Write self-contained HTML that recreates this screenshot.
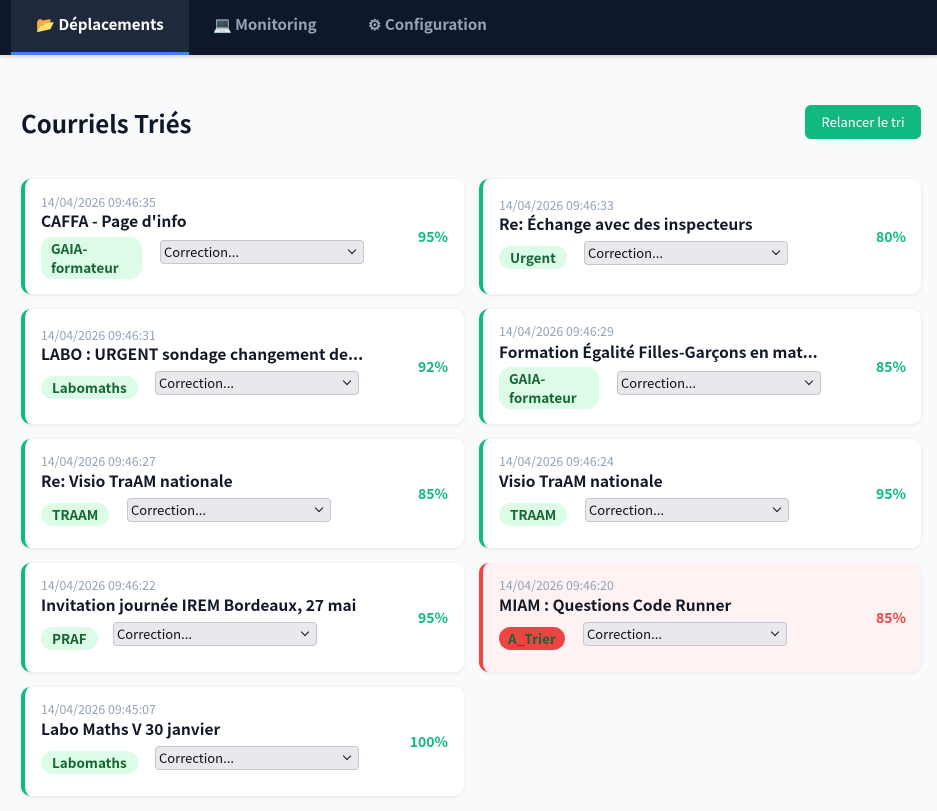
<!DOCTYPE html>
<html><head><meta charset="utf-8"><style>
*{margin:0;padding:0;box-sizing:border-box}
body{width:937px;height:811px;background:#f8fafc;font-family:"Noto Sans CJK JP","Liberation Sans",sans-serif;position:relative;overflow:hidden;color:#0f172a}
.nav{position:absolute;left:0;top:0;width:937px;height:55px;background:#0f172a;box-shadow:0 2px 4px rgba(0,0,0,.15)}
.tab{position:absolute;top:0;height:55px;line-height:50px;font-size:15px;font-weight:700;color:#94a3b8;white-space:nowrap}
.act{left:11px;width:178px;background:#1e293b;color:#fff;border-bottom:3px solid #3b82f6;text-align:center}
.abs{position:absolute;white-space:nowrap}
.card{position:absolute;background:#fff;border-radius:10px;border-left:4px solid #10b981;box-shadow:0 1px 4px rgba(0,0,0,.08)}
.date{font-size:12.3px;color:#94a3b8;line-height:16px}
.title{font-size:15.5px;font-weight:700;line-height:20px;color:#111827}
.tag{position:absolute;background:#dcfce7;color:#166534;font-size:13.5px;font-weight:700;border-radius:12px;line-height:21px;padding:1px 11px}
.sel{position:absolute;height:24px;width:204px;background:#e9e9ed;border:1px solid #c4c7d0;border-radius:4px;font-size:13px;line-height:22px;padding-left:3px;color:#111}
.sel:after{content:"";position:absolute;right:8px;top:6px;width:5px;height:5px;border-right:1.6px solid #111;border-bottom:1.6px solid #111;transform:rotate(45deg)}
.pct{font-size:14px;font-weight:700;color:#10b981;line-height:18px}
</style></head><body>
<div class="nav">
<div class="tab act">📂 Déplacements</div>
<div class="tab" style="left:213px">💻 Monitoring</div>
<div class="tab" style="left:368px">⚙ Configuration</div>
</div>
<div class="abs" style="left:21px;top:107px;font-size:24px;font-weight:700;line-height:32px">Courriels Triés</div>
<div class="abs" style="left:805px;top:105px;width:116px;height:34px;background:#10b981;border-radius:6px;color:#fff;font-size:13px;line-height:34px;text-align:center">Relancer le tri</div>

<div class="card" style="left:21px;top:179px;width:443px;height:115px"></div>
<div class="card" style="left:479px;top:179px;width:442px;height:115px"></div>
<div class="card" style="left:21px;top:309px;width:443px;height:115px"></div>
<div class="card" style="left:479px;top:309px;width:442px;height:115px"></div>
<div class="card" style="left:21px;top:439px;width:443px;height:109px"></div>
<div class="card" style="left:479px;top:439px;width:442px;height:109px"></div>
<div class="card" style="left:21px;top:563px;width:443px;height:109px"></div>
<div class="card" style="left:479px;top:563px;width:442px;height:109px;background:#fef2f2;border-left-color:#ef4444"></div>
<div class="card" style="left:21px;top:687px;width:443px;height:109px"></div>

<div class="abs date" style="left:41px;top:194px">14/04/2026 09:46:35</div>
<div class="abs title" style="left:41px;top:211px">CAFFA - Page d'info</div>
<div class="tag" style="left:41px;top:237px;width:101px;height:42px;white-space:normal;line-height:19px;padding:2px 10px">GAIA-<br>formateur</div>
<div class="sel" style="left:160px;top:240px">Correction...</div>
<div class="abs pct" style="right:489px;top:228px">95%</div>

<div class="abs date" style="left:499px;top:197px">14/04/2026 09:46:33</div>
<div class="abs title" style="left:499px;top:214px">Re: Échange avec des inspecteurs</div>
<div class="tag" style="left:499px;top:246px">Urgent</div>
<div class="sel" style="left:584px;top:241px">Correction...</div>
<div class="abs pct" style="right:31px;top:228px">80%</div>

<div class="abs date" style="left:41px;top:327px">14/04/2026 09:46:31</div>
<div class="abs title" style="left:41px;top:344px">LABO : URGENT sondage changement de...</div>
<div class="tag" style="left:41px;top:376px">Labomaths</div>
<div class="sel" style="left:155px;top:371px">Correction...</div>
<div class="abs pct" style="right:489px;top:358px">92%</div>

<div class="abs date" style="left:499px;top:323px">14/04/2026 09:46:29</div>
<div class="abs title" style="left:499px;top:342px">Formation Égalité Filles-Garçons en mat...</div>
<div class="tag" style="left:499px;top:367px;width:100px;height:42px;white-space:normal;line-height:19px;padding:2px 10px">GAIA-<br>formateur</div>
<div class="sel" style="left:617px;top:371px">Correction...</div>
<div class="abs pct" style="right:31px;top:358px">85%</div>

<div class="abs date" style="left:41px;top:453px">14/04/2026 09:46:27</div>
<div class="abs title" style="left:41px;top:471px">Re: Visio TraAM nationale</div>
<div class="tag" style="left:41px;top:503px">TRAAM</div>
<div class="sel" style="left:127px;top:498px">Correction...</div>
<div class="abs pct" style="right:489px;top:485px">85%</div>
<div class="abs date" style="left:499px;top:453px">14/04/2026 09:46:24</div>
<div class="abs title" style="left:499px;top:471px">Visio TraAM nationale</div>
<div class="tag" style="left:499px;top:503px">TRAAM</div>
<div class="sel" style="left:585px;top:498px">Correction...</div>
<div class="abs pct" style="right:31px;top:485px">95%</div>

<div class="abs date" style="left:41px;top:577px">14/04/2026 09:46:22</div>
<div class="abs title" style="left:41px;top:595px">Invitation journée IREM Bordeaux, 27 mai</div>
<div class="tag" style="left:41px;top:627px">PRAF</div>
<div class="sel" style="left:113px;top:622px">Correction...</div>
<div class="abs pct" style="right:489px;top:609px">95%</div>
<div class="abs date" style="left:499px;top:577px">14/04/2026 09:46:20</div>
<div class="abs title" style="left:499px;top:595px">MIAM : Questions Code Runner</div>
<div class="tag" style="left:499px;top:627px;background:#ef4444;padding:1px 9px">A_Trier</div>
<div class="sel" style="left:583px;top:622px">Correction...</div>
<div class="abs pct" style="right:31px;top:609px;color:#ef4444">85%</div>

<div class="abs date" style="left:41px;top:701px">14/04/2026 09:45:07</div>
<div class="abs title" style="left:41px;top:719px">Labo Maths V 30 janvier</div>
<div class="tag" style="left:41px;top:751px">Labomaths</div>
<div class="sel" style="left:155px;top:746px">Correction...</div>
<div class="abs pct" style="right:489px;top:733px">100%</div>
</body></html>
